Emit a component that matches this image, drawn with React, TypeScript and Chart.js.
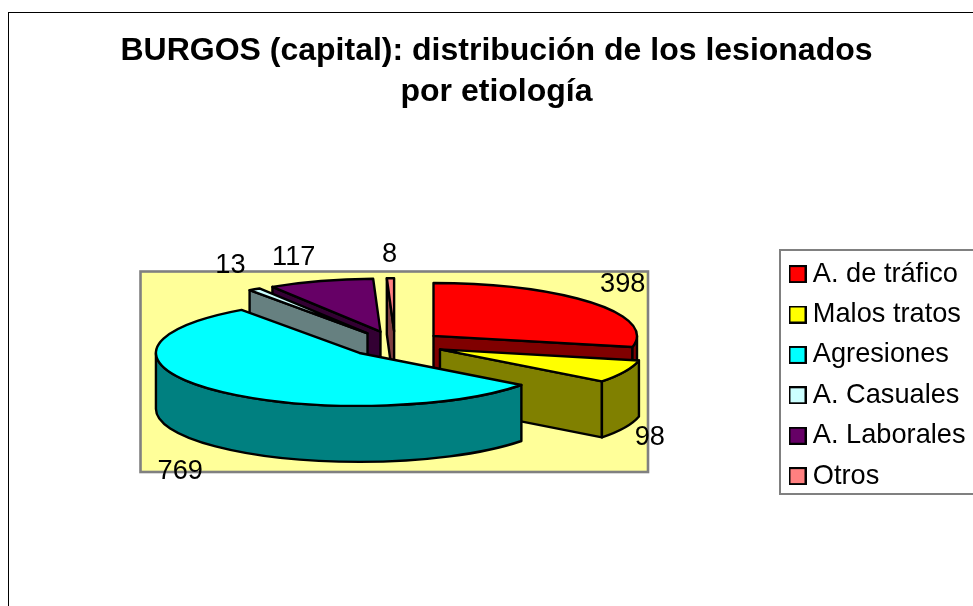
import React, { useEffect, useRef } from "react";
import { Chart, registerables } from "chart.js";

Chart.register(...registerables);

const categories = ["A. de tráfico", "Malos tratos", "Agresiones", "A. Casuales", "A. Laborales", "Otros"];
const values = [398, 98, 769, 13, 117, 8];
const titleLines = ["BURGOS (capital): distribución de los lesionados", "por etiología"];
const topColors = ["#FF0000", "#FFFF00", "#00FFFF", "#CCFFFF", "#660066", "#FF8080"];
const sideColors = ["#800000", "#808000", "#008080", "#668080", "#330033", "#804040"];

const FONT = "'Liberation Sans', Arial, sans-serif";
const SQUASH = 0.26;
const DEPTH = 56;
const EXPLODE = 49.5;
// painter's order (back slices first)
const paintOrder = [5, 4, 3, 0, 1, 2];
// label placement relative to each slice's rim
const labelNudge: [number, number][] = [[31, -18], [25, 10], [-33, 26], [-24, -24], [-27, -24], [-1, -24]];

function swatch(fill: string) {
  const c = document.createElement("canvas");
  c.width = 18;
  c.height = 18;
  const x = c.getContext("2d")!;
  x.fillStyle = fill;
  x.fillRect(0, 0, 18, 18);
  x.strokeStyle = "#000";
  x.lineWidth = 2;
  x.strokeRect(1, 1, 16, 16);
  return c;
}

const layoutPlugin = {
  id: "excelLayout",
  afterLayout(chart: any) {
    Object.assign(chart.chartArea, { left: 141, right: 649, top: 90, bottom: 598, width: 508, height: 508 });
    const lg = chart.legend;
    const pad = lg.options.labels.padding;
    lg.left = 795.75 - pad;
    lg.right = 973;
    lg.top = 260.5 - pad;
    lg.bottom = 800;
    lg.width = lg.right - lg.left;
    lg.height = lg.bottom - lg.top;
    const t = chart.titleBlock;
    t.left = 20;
    t.right = 973;
    t.top = 30.4;
    t.bottom = 115;
  },
  beforeDraw(chart: any) {
    const ctx = chart.ctx;
    ctx.save();
    ctx.fillStyle = "#fff";
    ctx.fillRect(0, 0, chart.width, chart.height);
    ctx.strokeStyle = "#000";
    ctx.lineWidth = 1;
    ctx.strokeRect(8.5, 12.5, chart.width + 20, chart.height + 20);
    ctx.strokeStyle = "#808080";
    ctx.lineWidth = 2;
    ctx.strokeRect(780, 250, 210, 244);
    ctx.restore();
  },
};

const pie3dPlugin = {
  id: "pie3d",
  beforeDatasetsDraw(chart: any) {
    const ctx = chart.ctx;
    const arcs = chart.getDatasetMeta(0).data;
    const a = chart.chartArea;
    ctx.save();
    ctx.fillStyle = "#FFFF99";
    ctx.fillRect(a.left, 271, a.right - a.left, 201);
    ctx.strokeStyle = "#808080";
    ctx.lineWidth = 2.6;
    ctx.strokeRect(a.left - 0.5, 271.5, a.right - a.left - 0.5, 200.5);
    ctx.lineWidth = 2.4;
    ctx.strokeStyle = "#000";
    ctx.lineJoin = "round";

    const geom = (el: any) => {
      const mid = (el.startAngle + el.endAngle) / 2;
      const off = el.options.offset;
      return {
        ax: el.x + off * Math.cos(mid),
        ay: el.y + off * Math.sin(mid) * SQUASH,
        rx: el.outerRadius,
        ry: el.outerRadius * SQUASH,
        a0: el.startAngle,
        a1: el.endAngle,
        mid,
      };
    };

    paintOrder.forEach((i) => {
      const el = arcs[i];
      const g = geom(el);
      const rim = (t: number) => [g.ax + g.rx * Math.cos(t), g.ay + g.ry * Math.sin(t)];
      ctx.fillStyle = sideColors[i];
      const cut = (t: number) => {
        const [px, py] = rim(t);
        ctx.beginPath();
        ctx.moveTo(g.ax, g.ay);
        ctx.lineTo(px, py);
        ctx.lineTo(px, py + DEPTH);
        ctx.lineTo(g.ax, g.ay + DEPTH);
        ctx.closePath();
        ctx.fill();
        ctx.stroke();
      };
      if (Math.sin(g.a0 - Math.PI / 2) > 1e-3) cut(g.a0);
      if (Math.sin(g.a1 + Math.PI / 2) > 1e-3) cut(g.a1);
      const from = Math.max(g.a0, 0);
      const to = Math.min(g.a1, Math.PI);
      if (to > from) {
        ctx.beginPath();
        ctx.ellipse(g.ax, g.ay, g.rx, g.ry, 0, from, to);
        ctx.ellipse(g.ax, g.ay + DEPTH, g.rx, g.ry, 0, to, from, true);
        ctx.closePath();
        ctx.fill();
        ctx.stroke();
      }
      ctx.fillStyle = topColors[i];
      ctx.beginPath();
      ctx.moveTo(g.ax, g.ay);
      ctx.ellipse(g.ax, g.ay, g.rx, g.ry, 0, g.a0, g.a1);
      ctx.closePath();
      ctx.fill();
      ctx.stroke();
    });

    ctx.fillStyle = "#000";
    ctx.font = `27.2px ${FONT}`;
    ctx.textAlign = "center";
    ctx.textBaseline = "middle";
    arcs.forEach((el: any, i: number) => {
      const g = geom(el);
      const s = Math.sin(g.mid);
      const x = g.ax + g.rx * Math.cos(g.mid) + labelNudge[i][0];
      const y = g.ay + g.ry * s + (s > 0 ? DEPTH : 0) + labelNudge[i][1];
      ctx.fillText(String(values[i]), x, y);
    });
    ctx.restore();
    return false;
  },
};

export default function App() {
  const ref = useRef<HTMLCanvasElement>(null);
  useEffect(() => {
    const chart = new Chart(ref.current!, {
      type: "pie",
      data: {
        labels: categories,
        datasets: [{ data: values, backgroundColor: topColors, borderColor: "#000", borderWidth: 2, offset: EXPLODE, radius: 203.5 }],
      } as any,
      options: {
        responsive: false,
        animation: false,
        devicePixelRatio: 1,
        plugins: {
          tooltip: { enabled: false },
          title: {
            display: true,
            text: titleLines,
            color: "#000",
            font: { family: FONT, size: 32, weight: "bold", lineHeight: 1.28 },
            padding: 0,
          },
          legend: {
            display: true,
            position: "right",
            align: "start",
            labels: {
              color: "#000",
              font: { family: FONT, size: 27.2 },
              usePointStyle: true,
              pointStyleWidth: 3.5,
              boxHeight: 18,
              padding: 13.2,
              generateLabels: () =>
                categories.map((text, i) => ({
                  text,
                  fontColor: "#000",
                  pointStyle: swatch(topColors[i]),
                  fillStyle: topColors[i],
                  strokeStyle: "#000",
                  lineWidth: 2,
                  hidden: false,
                  index: i,
                })),
            },
          },
        },
      } as any,
      plugins: [layoutPlugin, pie3dPlugin] as any,
    });
    return () => chart.destroy();
  }, []);
  return (
    <div style={{ position: "fixed", left: 0, top: 0, width: 973, height: 606 }}>
      <canvas ref={ref} width={973} height={606} style={{ display: "block" }} />
    </div>
  );
}
